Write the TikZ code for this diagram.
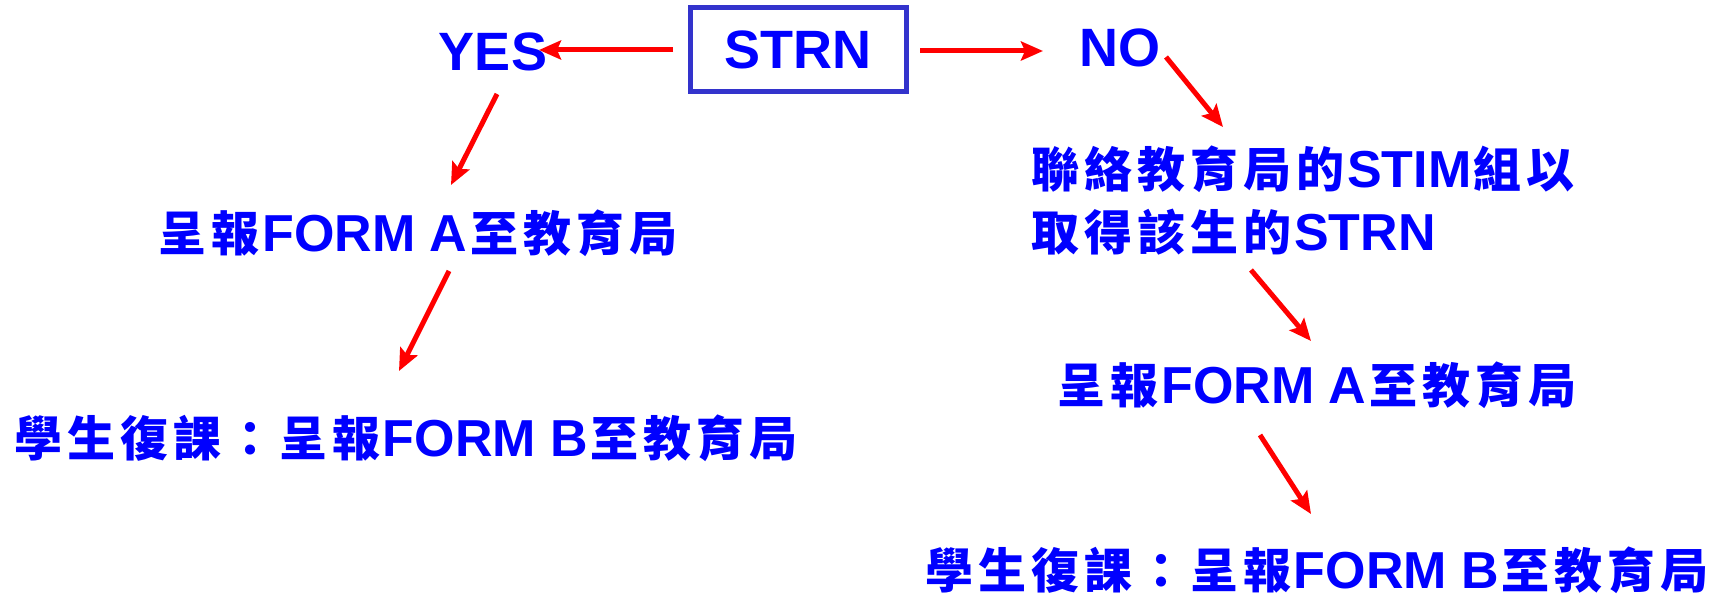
\documentclass[tikz,border=0pt]{standalone}
\usepackage{fontspec}
\setmainfont{Liberation Sans}
\newfontfamily\cjk{Noto Sans CJK TC}
\usetikzlibrary{arrows.meta}
\definecolor{tblue}{HTML}{0000FF}
\definecolor{boxblue}{HTML}{3333CC}
\definecolor{ared}{HTML}{FF0000}
\def\Cloop#1{\ifx#1\relax\else\makebox[53pt]{#1}\expandafter\Cloop\fi}
\newcommand\C[1]{{\cjk\fontsize{48}{63}\selectfont\bfseries\Cloop#1\relax}}
\begin{document}
\begin{tikzpicture}[x=1pt,y=-1pt,
  lbl/.style={text=tblue,font=\fontsize{52}{63}\selectfont\bfseries,inner sep=0pt},
  big/.style={lbl,font=\fontsize{54}{60}\selectfont\bfseries},
  arr/.style={draw=ared,line width=5pt,-{Stealth[length=22pt,width=19pt,inset=4pt]}}]
\useasboundingbox[fill=white] (0,0) rectangle (1725,596);
\node[big, draw=boxblue, line width=5pt, minimum width=216pt, minimum height=84pt] (strn) at (798,50) {STRN};
\node[big] (yes) at (493,52) {YES};
\node[big] (no) at (1120,48) {NO};
\node[lbl] (formA1) at (418,233) {\C{呈報}FORM A\C{至教育局}};
\node[lbl] (formB1) at (406,438) {\C{學生復課：呈報}FORM B\C{至教育局}};
\node[lbl, align=left, anchor=west] (stim) at (1029,201) {\C{聯絡教育局的}STIM\C{組以}\\\C{取得該生的}STRN};
\node[lbl] (formA2) at (1317,385) {\C{呈報}FORM A\C{至教育局}};
\node[lbl] (formB2) at (1317,570) {\C{學生復課：呈報}FORM B\C{至教育局}};
\coordinate (a1s) at (673,50);  \coordinate (a1e) at (539,50);
\coordinate (a2s) at (920,51);  \coordinate (a2e) at (1043,51);
\coordinate (a3s) at (497,94);  \coordinate (a3e) at (451,185);
\coordinate (a4s) at (449,271); \coordinate (a4e) at (399,371);
\coordinate (a5s) at (1166,57); \coordinate (a5e) at (1223,127);
\coordinate (a6s) at (1251,270);\coordinate (a6e) at (1311,341);
\coordinate (a7s) at (1260,435);\coordinate (a7e) at (1311,514);
\draw[arr] (a1s) -- (a1e);
\draw[arr] (a2s) -- (a2e);
\draw[arr] (a3s) -- (a3e);
\draw[arr] (a4s) -- (a4e);
\draw[arr] (a5s) -- (a5e);
\draw[arr] (a6s) -- (a6e);
\draw[arr] (a7s) -- (a7e);
\end{tikzpicture}
\end{document}
